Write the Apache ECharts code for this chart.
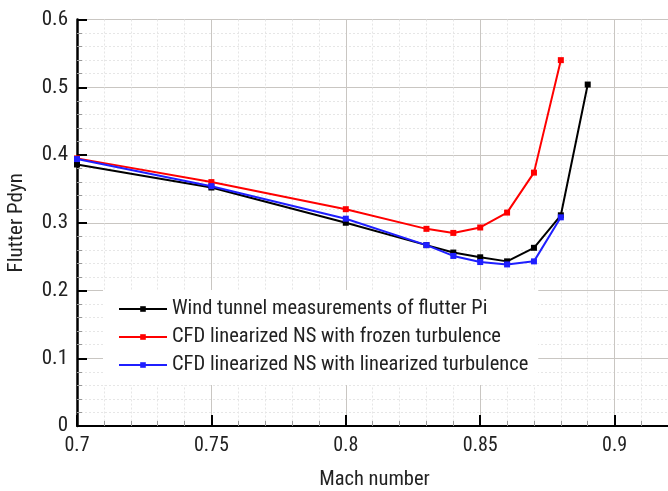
<!DOCTYPE html>
<html>
<head>
<meta charset="utf-8">
<script src="https://cdn.jsdelivr.net/npm/echarts@6/dist/echarts.min.js"></script>
<style>
html,body{margin:0;padding:0;background:#fff;overflow:hidden;width:668px;height:491px;}
#c{width:749px;height:491px;}
</style>
</head>
<body>
<div id="c"></div>
<script>
var FONT = '"Liberation Sans Narrow", "Roboto Condensed", "DejaVu Sans Condensed", "Liberation Sans", sans-serif';

var seriesNames = [
  'Wind tunnel measurements of flutter Pi',
  'CFD linearized NS with frozen turbulence',
  'CFD linearized NS with linearized turbulence'
];
var windMach = [0.70, 0.75, 0.80, 0.83, 0.84, 0.85, 0.86, 0.87, 0.88, 0.89];
var windPdyn = [0.386, 0.352, 0.300, 0.267, 0.256, 0.249, 0.243, 0.263, 0.311, 0.504];
var frozenMach = [0.70, 0.75, 0.80, 0.83, 0.84, 0.85, 0.86, 0.87, 0.88];
var frozenPdyn = [0.395, 0.360, 0.320, 0.291, 0.285, 0.293, 0.315, 0.374, 0.540];
var linMach = [0.70, 0.75, 0.80, 0.83, 0.84, 0.85, 0.86, 0.87, 0.88];
var linPdyn = [0.394, 0.354, 0.306, 0.267, 0.251, 0.242, 0.2385, 0.243, 0.308];
var xTicks = [0.7, 0.75, 0.8, 0.85, 0.9];
var yTicks = [0, 0.1, 0.2, 0.3, 0.4, 0.5, 0.6];

function pairs(xs, ys) { return xs.map(function (x, i) { return [x, ys[i]]; }); }

var colors = ['#000000', '#ff0000', '#1f1fff'];
var seriesData = [pairs(windMach, windPdyn), pairs(frozenMach, frozenPdyn), pairs(linMach, linPdyn)];

var chart = echarts.init(document.getElementById('c'), null, {renderer: 'canvas'});
chart.setOption({
  animation: false,
  backgroundColor: '#ffffff',
  textStyle: {fontFamily: FONT},
  grid: {left: 77, top: 19.5, right: 0, bottom: 65, containLabel: false, outerBoundsMode: 'none'},
  legend: {
    orient: 'vertical',
    left: 103,
    top: 290,
    width: 440,
    padding: [7, 10, 8, 15],
    backgroundColor: '#ffffff',
    itemWidth: 48,
    itemHeight: 7,
    itemGap: 4,
    textStyle: {fontFamily: FONT, fontSize: 20.5, color: '#222', lineHeight: 24},
    data: seriesNames
  },
  xAxis: {
    type: 'value',
    min: 0.7,
    max: 0.95,
    interval: 0.05,
    name: 'Mach number',
    nameLocation: 'middle',
    nameGap: 43,
    nameTextStyle: {fontFamily: FONT, fontSize: 20.5, color: '#222', padding: [0, 77, 0, 0]},
    axisLine: {onZero: false, lineStyle: {color: '#000', width: 2}},
    axisTick: {inside: true, length: 11, lineStyle: {color: '#000', width: 2}},
    minorTick: {show: true, splitNumber: 5, length: 5, lineStyle: {color: '#999', width: 1}},
    axisLabel: {
      fontFamily: FONT, fontSize: 20, color: '#222', margin: 10,
      formatter: function (v) {
        for (var i = 0; i < xTicks.length; i++) if (Math.abs(v - xTicks[i]) < 1e-9) return String(xTicks[i]);
        return '';
      }
    },
    splitLine: {show: true, lineStyle: {color: '#c9c6c2', width: 1}},
    minorSplitLine: {show: true, lineStyle: {color: '#e6e6e6', width: 1, type: [2, 2]}}
  },
  yAxis: {
    type: 'value',
    min: 0,
    max: 0.6,
    interval: 0.1,
    name: 'Flutter Pdyn',
    nameLocation: 'middle',
    nameGap: 50,
    nameTextStyle: {fontFamily: FONT, fontSize: 21, color: '#222'},
    axisLine: {onZero: false, lineStyle: {color: '#000', width: 2.5}},
    axisTick: {inside: true, length: 10, lineStyle: {color: '#000', width: 2}},
    minorTick: {show: true, splitNumber: 5, length: 5, lineStyle: {color: '#999', width: 1}},
    axisLabel: {
      fontFamily: FONT, fontSize: 21, color: '#222', margin: 9,
      formatter: function (v) {
        for (var i = 0; i < yTicks.length; i++) if (Math.abs(v - yTicks[i]) < 1e-9) return String(yTicks[i]);
        return '';
      }
    },
    splitLine: {show: true, lineStyle: {color: '#c9c6c2', width: 1}},
    minorSplitLine: {show: true, lineStyle: {color: '#e6e6e6', width: 1, type: [2, 2]}}
  },
  series: seriesNames.map(function (n, i) {
    return {
      name: n,
      type: 'line',
      data: seriesData[i],
      color: colors[i],
      symbol: 'rect',
      symbolSize: 6,
      showAllSymbol: true,
      lineStyle: {width: 2, color: colors[i]},
      itemStyle: {color: colors[i]},
      z: 3 + i
    };
  })
});
</script>
</body>
</html>
